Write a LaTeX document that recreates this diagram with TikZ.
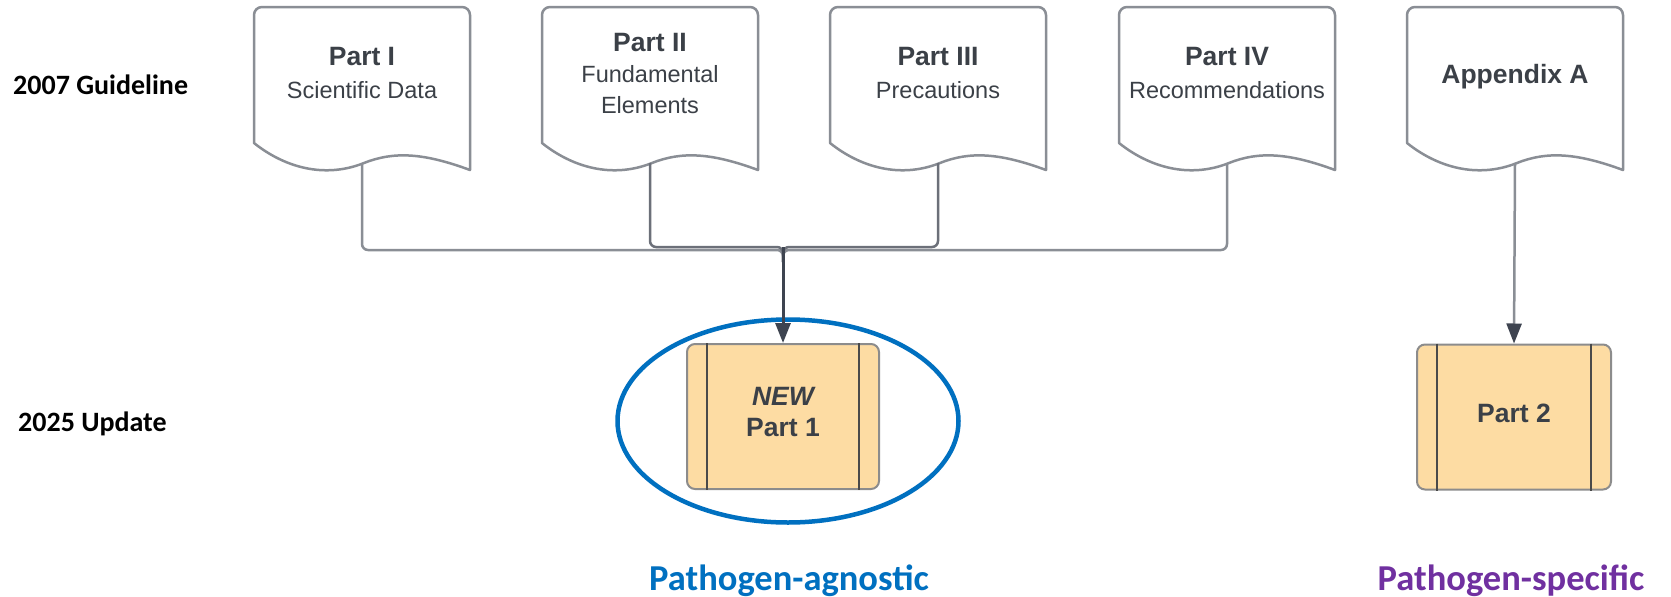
\documentclass[tikz,border=0pt]{standalone}
\usepackage{fontspec}
\setmainfont{Liberation Sans}
\newfontfamily\calib{Carlito}
\usetikzlibrary{arrows.meta,shapes.geometric,calc}
\definecolor{docgray}{HTML}{8A8E95}
\definecolor{txtgray}{HTML}{3B4047}
\definecolor{darkline}{HTML}{3E4450}
\definecolor{boxfill}{HTML}{FDDCA3}
\definecolor{boxedge}{HTML}{8C8C8C}
\definecolor{bandline}{HTML}{4A4A4A}
\definecolor{agblue}{HTML}{0070C0}
\definecolor{sppurple}{HTML}{7030A0}
\newcommand\doctitle{\fontsize{26.5}{32}\selectfont\bfseries}
\newcommand\docsubtxt{\fontsize{23.5}{31}\selectfont\mdseries}
\newcommand\docshape[1]{%
  \draw[docline, shift={($(#1.center)+(-108,-66)$)}]
    (0,136) -- (0,8) .. controls (0,3.6) and (3.6,0) .. (8,0) -- (208,0)
    .. controls (212.4,0) and (216,3.6) .. (216,8) -- (216,163)
    .. controls (170,146) and (140,144) .. (110,156)
    .. controls (70,172) and (30,160) .. (0,136) -- cycle;
  \coordinate (#1b) at ($(#1.center)+(0,90)$);
}
\tikzset{
  doclabel/.style={align=center, text=txtgray, inner sep=0pt,
    font=\fontsize{23.5}{31}\selectfont},
  docline/.style={draw=docgray, line width=2.5pt, line join=round},
  bus/.style={draw=docgray, line width=2.5pt, rounded corners=6pt},
  busmid/.style={draw=docgray!60!darkline, line width=2.5pt, rounded corners=6pt},
  tipdark/.style={-{Triangle[length=20pt,width=15pt,color=darkline]}},
  partbox/.style={rectangle, rounded corners=8pt, fill=boxfill, draw=boxedge,
    line width=2pt, minimum height=145pt, align=center, text=txtgray,
    inner sep=0pt, font=\fontsize{26.5}{31}\selectfont\bfseries},
  band/.style={draw=bandline, line width=2pt},
  rowlabel/.style={anchor=west, font=\calib\fontsize{28}{33}\selectfont\bfseries,
    text=black, inner sep=0pt},
  catlabel/.style={font=\calib\fontsize{36.5}{40}\selectfont\bfseries, inner sep=0pt},
}
\begin{document}
\begin{tikzpicture}[x=1pt,y=-1pt]
\fill[white] (0,0) rectangle (1671,597);
\useasboundingbox (0,0) rectangle (1671,597);

% row labels
\node[rowlabel] (g07) at (13,85) {2007 Guideline};
\node[rowlabel] (u25) at (18,424) {2025 Update};

% documents
\node[doclabel] (p1) at (362,73) {{\doctitle Part I}\\[2pt]{\docsubtxt Scientific Data}};
\node[doclabel] (p2) at (650,73) {{\doctitle Part II}\\{\docsubtxt Fundamental}\\{\docsubtxt Elements}};
\node[doclabel] (p3) at (938,73) {{\doctitle Part III}\\[2pt]{\docsubtxt Precautions}};
\node[doclabel] (p4) at (1227,73) {{\doctitle Part IV}\\[2pt]{\docsubtxt Recommendations}};
\node[doclabel] (p5) at (1515,77) {{\doctitle Appendix A}};
\docshape{p1}
\docshape{p2}
\docshape{p3}
\docshape{p4}
\coordinate (p5ref) at (1515,73);
\draw[docline, shift={($(p5ref)+(-108,-66)$)}]
    (0,136) -- (0,8) .. controls (0,3.6) and (3.6,0) .. (8,0) -- (208,0)
    .. controls (212.4,0) and (216,3.6) .. (216,8) -- (216,163)
    .. controls (170,146) and (140,144) .. (110,156)
    .. controls (70,172) and (30,160) .. (0,136) -- cycle;
\coordinate (p5b) at ($(p5ref)+(0,90)$);

% ring
\node[ellipse, draw=agblue, line width=4.5pt, minimum width=341pt,
      minimum height=203pt, inner sep=0pt] (ring) at (788,421) {};

% boxes
\node[partbox, minimum width=192pt, text depth=9pt] (n1) at (783,416.5)
  {{\itshape NEW}\\Part 1};
\node[partbox, minimum width=194pt, text depth=8pt] (n2) at (1514,417) {Part 2};
\draw[band] ($(n1.north west)+(21,0)$) -- ($(n1.south west)+(21,0)$);
\draw[band] ($(n1.north east)+(-21,0)$) -- ($(n1.south east)+(-21,0)$);
\draw[band] ($(n2.north west)+(21,0)$) -- ($(n2.south west)+(21,0)$);
\draw[band] ($(n2.north east)+(-21,0)$) -- ($(n2.south east)+(-21,0)$);

% connectors
\coordinate (j) at (783,250);
\coordinate (jd) at (783,262);
\coordinate (ju) at (783,247);
\draw[bus] (p1b) |- (j) -- (jd);
\draw[bus] (p4b) |- (j) -- (jd);
\draw[busmid] (p2b) |- (ju) -- (jd);
\draw[busmid] (p3b) |- (ju) -- (jd);
\draw[draw=darkline, line width=3pt, tipdark] (ju) -- (n1.north);
\draw[docline, tipdark] (p5b) -- (n2.north);

% category labels
\node[catlabel, text=agblue] (ag) at (789,581) {Pathogen-agnostic};
\node[catlabel, text=sppurple] (sp) at (1511,581) {Pathogen-specific};
\end{tikzpicture}
\end{document}
